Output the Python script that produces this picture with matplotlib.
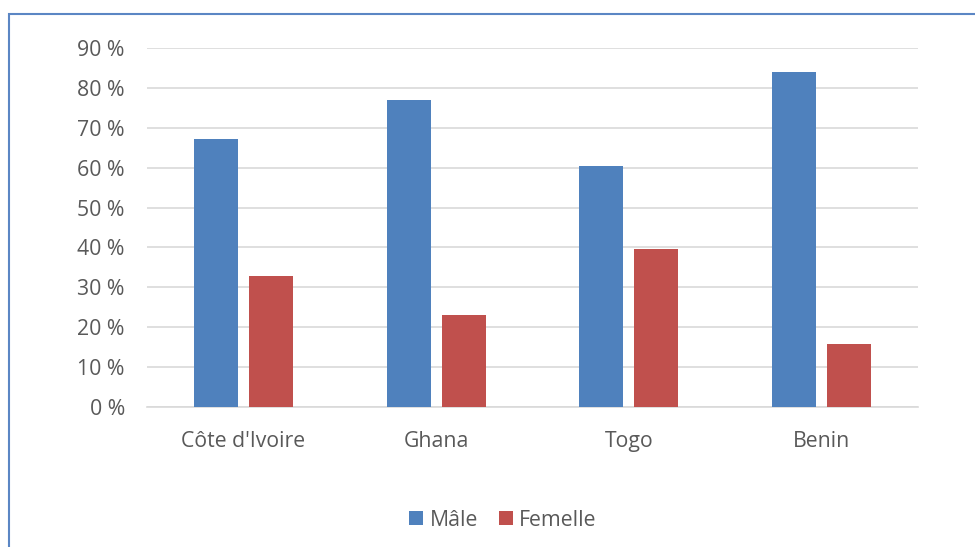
import matplotlib
matplotlib.use("Agg")
import matplotlib.pyplot as plt
import matplotlib.patches as mpatches
import numpy as np

plt.rcParams['font.family'] = ['Open Sans', 'DejaVu Sans']

# data (percent)
countries = ["Côte d'Ivoire", "Ghana", "Togo", "Benin"]
male = [67.2, 77.0, 60.4, 84.1]
female = [32.8, 23.0, 39.6, 15.9]
series_names = ["Mâle", "Femelle"]
yticks = list(range(0, 100, 10))

blue = "#4F81BD"
red = "#C0504D"
text_col = "#595959"
grid_col = "#D9D9D9"
fs = 15.3

fig = plt.figure(figsize=(9.75, 5.47), dpi=100)
ax = fig.add_axes([147 / 975, 1 - 407 / 547, (918 - 147) / 975, (407 - 48) / 547])

x = np.arange(len(countries))
w = 0.228
gap = 0.057
ax.bar(x - (w + gap) / 2, male, w, color=blue, label=series_names[0], zorder=3)
ax.bar(x + (w + gap) / 2, female, w, color=red, label=series_names[1], zorder=3)

ax.set_xlim(-0.5, len(countries) - 0.5)
ax.set_ylim(0, 90)
ax.set_yticks(yticks)
ax.set_yticklabels([f"{t} %" for t in yticks])
ax.set_xticks(x)
ax.set_xticklabels(countries)
ax.yaxis.grid(True, color=grid_col, linewidth=1.2, zorder=0)
ax.tick_params(axis='both', length=0, labelsize=fs, colors=text_col)
ax.tick_params(axis='y', pad=16)
ax.tick_params(axis='x', pad=17)
for s in ["top", "right", "left"]:
    ax.spines[s].set_visible(False)
ax.spines["bottom"].set_color(grid_col)
ax.spines["bottom"].set_linewidth(1.2)

leg = fig.legend(loc="center", bbox_to_anchor=(0.516, 1 - 520 / 547), ncol=2,
                 frameon=False, fontsize=fs, handlelength=0.65, handleheight=0.65,
                 handletextpad=0.3, columnspacing=1.0)
for t in leg.get_texts():
    t.set_color(text_col)

# outer chart frame (cropped at right and bottom)
frame = mpatches.Rectangle((8.5 / 975, -0.1), 1.2, 1 - 13.5 / 547 + 0.1,
                           transform=fig.transFigure, fill=False,
                           edgecolor="#5B86C4", linewidth=1.5)
fig.patches.append(frame)

fig.savefig("out.png", dpi=100)
